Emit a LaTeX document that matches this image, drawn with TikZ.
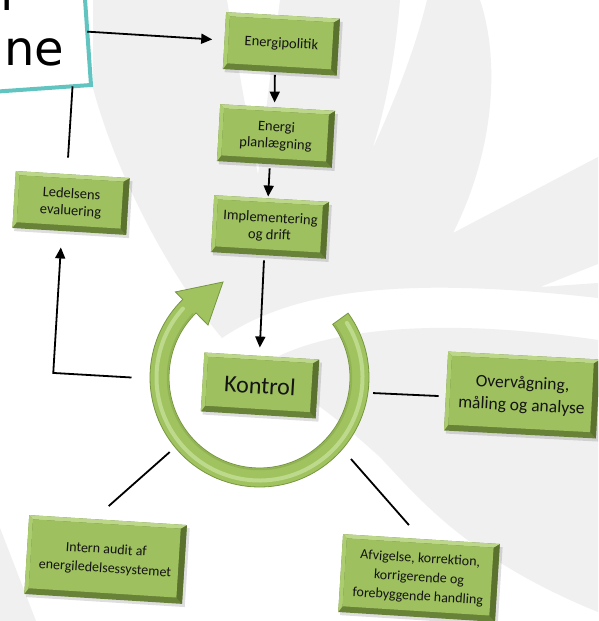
\documentclass[tikz,border=0pt]{standalone}
\usepackage{fontspec}
\setmainfont{Carlito}
\newfontfamily\dejavu{DejaVu Sans}
\usetikzlibrary{arrows.meta,calc}
\definecolor{bggray}{RGB}{240,240,240}
\definecolor{teal1}{RGB}{98,196,192}
\definecolor{bface}{RGB}{158,192,95}
\definecolor{btop}{RGB}{188,214,138}
\definecolor{bleft}{RGB}{172,204,112}
\definecolor{bbot}{RGB}{104,131,55}
\definecolor{bright}{RGB}{90,114,46}
\definecolor{ringfill}{RGB}{160,195,96}
\definecolor{ringedge}{RGB}{118,150,64}
\definecolor{ringhi}{RGB}{200,225,155}
\definecolor{txt}{RGB}{20,20,20}
\tikzset{
  boxtext/.style={text=txt, align=center, inner sep=0pt, outer sep=0pt},
  fsmall/.style={font=\fontsize{14.5}{17}\selectfont},
  fbottom/.style={font=\fontsize{14}{19}\selectfont},
  fov/.style={font=\fontsize{17.5}{22.5}\selectfont},
  fko/.style={font=\fontsize{24}{27}\selectfont},
  conn/.style={line width=1.8pt, black},
  arr/.style={conn, -{Triangle[length=11pt,width=10pt]}},
}
% name, x, y, w, h, rotation, font style, text
\newcommand\bevelbox[8]{%
  \begin{scope}[shift={(#2,#3)}, rotate=#6]
    \pgfmathsetmacro\hw{#4/2}\pgfmathsetmacro\hh{#5/2}
    \fill[black, opacity=0.13] (-\hw+2,-\hh+3) rectangle (\hw+3,\hh+3);
    \fill[bbot] (-\hw,-\hh) rectangle (\hw,\hh);
    \fill[bright] (\hw,-\hh) -- (\hw,\hh) -- (\hw-6,\hh-6) -- (\hw-6,-\hh+4) -- cycle;
    \fill[btop] (-\hw,-\hh) -- (\hw,-\hh) -- (\hw-6,-\hh+4) -- (-\hw+4,-\hh+4) -- cycle;
    \fill[bleft] (-\hw,-\hh) -- (-\hw+4,-\hh+4) -- (-\hw+4,\hh-6) -- (-\hw,\hh) -- cycle;
    \fill[bface] (-\hw+4,-\hh+4) rectangle (\hw-6,\hh-6);
  \end{scope}
  \node[boxtext, #7, rotate=#6, minimum width=#4pt, minimum height=#5pt] (#1) at (#2,#3) {#8};
}
\begin{document}
\begin{tikzpicture}[x=1pt,y=-1pt]
\useasboundingbox (0,0) rectangle (598,621);
\clip (0,0) rectangle (598,621);
\fill[white] (0,0) rectangle (598,621);
% background watermark leaves
\fill[bggray] (93,0) -- (227,0) .. controls (240,80) and (250,130) .. (258,175)
  .. controls (265,120) and (272,60) .. (280,0) -- (400,0)
  .. controls (395,60) and (385,110) .. (372,150)
  .. controls (395,100) and (415,50) .. (427,0) -- (480,0)
  .. controls (500,60) and (495,150) .. (453,233) -- (598,157) -- (598,264)
  -- (540,287) -- (598,283) -- (598,298)
  .. controls (420,278) and (300,285) .. (222,338)
  .. controls (165,270) and (115,170) .. (93,88) -- cycle;
\fill[bggray] (258,368) .. controls (320,325) and (450,318) .. (598,340) -- (598,612)
  .. controls (470,560) and (420,500) .. (380,457)
  .. controls (360,440) and (320,400) .. (258,368) -- cycle;
\fill[bggray] (0,528) -- (36,621) -- (0,621) -- cycle;

% teal text box (cut by the edge)
\node[draw=teal1, line width=4pt, fill=white, minimum width=300pt, minimum height=200pt,
      rotate=4, anchor=south east, inner sep=0pt, outer sep=0pt] (tb) at (91,85) {};
\node[font=\dejavu\fontsize{48}{50}\selectfont, anchor=base west, inner sep=0pt] (tline1) at (0.5,10) {l};
\node[font=\dejavu\fontsize{48}{50}\selectfont, anchor=base west, inner sep=0pt] (tline2) at (-9,65) {ine};

% circular arrow
\coordinate (ring) at (259.5,377.5);
\begin{scope}[shift={(259.5,377.5)}, yscale=-1]
  \fill[ringfill, draw=ringedge, line width=0.8pt]
    (36:109.5) arc[start angle=36, end angle=-225.5, radius=109.5]
    -- (134.5:120) -- (-36.5,95.5) -- (134.5:73.5) -- (134.5:90.5)
    arc[start angle=-225.5, end angle=36, radius=90.5] -- cycle;
  \draw[ringhi, line width=4pt, opacity=0.75, line cap=round]
    (32:103) arc[start angle=32, end angle=-222, radius=103];
  \draw[ringedge, line width=1.5pt, opacity=0.35]
    (35:92) arc[start angle=35, end angle=-224, radius=92];
\end{scope}

% boxes
\bevelbox{ep}{281.4}{43.9}{114}{57}{-3.3}{fsmall}{Energipolitik}
\bevelbox{pl}{276}{136}{115}{57}{-3.3}{fsmall}{Energi\\planlægning}
\bevelbox{im}{270}{227}{115}{57}{-3.3}{fsmall}{Implementering\\og drift}
\bevelbox{le}{71}{203}{114}{57}{-3.5}{fsmall}{Ledelsens\\evaluering}
\bevelbox{ko}{260}{385.5}{115}{59}{-3.5}{fko}{Kontrol}
\bevelbox{ov}{522}{395}{152}{79}{-3}{fov}{Overvågning,\\måling og analyse}
\bevelbox{ia}{105.6}{559.5}{158}{79}{-3.6}{fbottom}{Intern audit af\\energiledelsessystemet}
\bevelbox{af}{419}{578}{157}{78}{-3.6}{fbottom}{Afvigelse, korrektion,\\korrigerende og\\forebyggende handling}

% connectors
\draw[arr] ($(tb.south east)!53.5pt!(tb.north east)$) -- ($(ep.west)+(-12.3,-1.2)$);
\draw[arr] ($(ep.south)+(-4.9,2.5)$) -- ($(pl.north)+(-3,-5)$);
\draw[arr] ($(pl.south)+(-4.7,4)$) -- ($(im.north)+(-3.5,-2)$);
\draw[arr] ($(im.south)+(-4.4,5)$) -- ($(ko.north)+(-2,-8.5)$);
\draw[conn] ($(tb.south east)!18.5pt!(tb.south west)$) -- ($(le.north)+(-4.7,-17)$);
\coordinate (lecorner) at ($(le.south)+(-16,141.5)$);
\draw[arr] ($(ring)+(180:128)$) -- (lecorner) -- ($(le.south)+(-8.4,16)$);
\draw[conn] ($(ring)+(7.8:114.6)$) -- ($(ov.west)+(-7.5,5)$);
\draw[conn] ($(ring)+(140.3:116.7)$) -- ($(ia.north)+(0.6,-14)$);
\draw[conn] ($(ring)+(41.7:122.5)$) -- ($(af.north)+(-12.5,-14)$);
\end{tikzpicture}
\end{document}
